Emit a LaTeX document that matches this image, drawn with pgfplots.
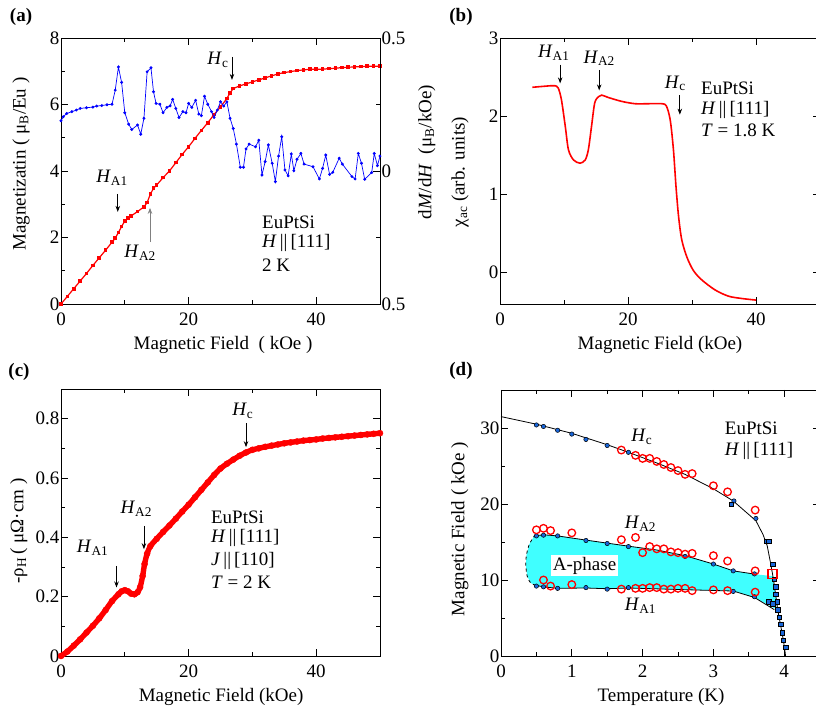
\documentclass[border=0pt]{standalone}
\usepackage{fontspec}
\setmainfont{Liberation Serif}
\usepackage{pgfplots}
\pgfplotsset{compat=1.18}
\usetikzlibrary{arrows.meta}

\definecolor{aphase}{rgb}{0.25,1,1}
\definecolor{ptblue}{rgb}{0.1,0.4,0.85}

\pgfplotsset{
  panel/.style={
    scale only axis,
    axis line style={line width=0.9pt},
    tick align=inside,
    every tick/.style={black, line width=0.8pt},
    major tick length=7pt,
    minor tick length=4pt,
    tick label style={font=\fontsize{19}{22}\selectfont},
    label style={font=\fontsize{19}{22}\selectfont},
    /pgf/number format/assume math mode=true,
    xticklabel style={yshift=-5pt},
    yticklabel style={inner sep=1.5pt},
    xlabel style={at={(axis description cs:0.5,-0.154)}, anchor=center},
    clip=false,
  },
}
\tikzset{
  ann/.style={font=\fontsize{19}{22}\selectfont, inner sep=0pt},
  arr/.style={-{Stealth[length=6pt,width=4.5pt]}, line width=0.8pt},
}

\begin{document}
\begin{tikzpicture}
\useasboundingbox (0pt,0pt) rectangle (816pt,709pt);

% ---------------- (a) magnetization + dM/dH
\begin{axis}[panel, at={(61pt,405pt)}, anchor=south west, width=319pt, height=266pt,
  xmin=0, xmax=50, ymin=0, ymax=8,
  xtick={0,20,40}, minor xtick={10,30},
  ytick={0,2,4,6,8}, minor ytick={1,3,5,7}, ytick pos=left,
  xlabel={Magnetic Field\ \ ( kOe )},
  xlabel style={at={(axis description cs:0.508,-0.154)}},
  ylabel={Magnetizatin ( μ\textsubscript{B}/Eu )},
  ylabel style={at={(axis description cs:-0.125,0.526)}, anchor=center}]
\addplot[red, line width=1.2pt, mark=square*, mark size=1.2pt] coordinates {
(0,0) (1,0.23) (2,0.46) (3,0.69) (4,0.92) (5,1.16) (6,1.39) (7,1.62) (8,1.86)
(8.5,1.98) (9,2.15) (9.5,2.33) (10,2.50) (10.5,2.58) (11,2.65) (12,2.78) (13,2.92)
(13.5,3.05) (14,3.30) (14.5,3.48) (15,3.58) (16,3.80) (17,4.00) (18,4.25) (19,4.50)
(20,4.73) (21,4.98) (22,5.22) (23,5.45) (24,5.70) (25,5.93) (26,6.18) (26.5,6.35)
(27,6.48) (28,6.56) (29,6.62) (30,6.68) (31,6.74) (32,6.80) (33,6.86) (34,6.92)
(35,6.96) (36,6.99) (37,7.02) (38,7.04) (39,7.06) (40,7.06) (41,7.06) (42,7.08)
(43,7.09) (44,7.11) (45,7.12) (46,7.13) (47,7.14) (48,7.15) (49,7.15) (50,7.15)
};
\node[ann] at (axis cs:24.6,7.34) {\textit{H}\textsubscript{c}};
\draw[arr] (axis cs:26.8,7.43) -- (axis cs:26.8,6.74);
\node[ann] at (axis cs:8.0,3.79) {\textit{H}\textsubscript{A1}};
\draw[arr] (axis cs:8.9,3.31) -- (axis cs:8.9,2.77);
\node[ann] at (axis cs:12.4,1.53) {\textit{H}\textsubscript{A2}};
\draw[arr, gray] (axis cs:13.95,1.86) -- (axis cs:13.95,2.89);
\node[ann, anchor=west] at (axis cs:31.5,2.47) {EuPtSi};
\node[ann, anchor=west] at (axis cs:31.5,1.83) {\textit{H}\,||\,[111]};
\node[ann, anchor=west] at (axis cs:31.5,1.17) {2 K};
\end{axis}

\begin{axis}[panel, at={(61pt,405pt)}, anchor=south west, width=319pt, height=266pt,
  xmin=0, xmax=50, ymin=-0.5, ymax=0.5,
  axis x line=none, axis y line*=right,
  ytick={-0.5,0,0.5}, yticklabels={0.5,0,0.5}, minor ytick={-0.25,0.25},
  ylabel={d\textit{M}/d\textit{H}\ \ (μ\textsubscript{B}/kOe)},
  ylabel style={at={(axis description cs:1.147,0.571)}, anchor=center}]
\addplot[blue, line width=0.7pt, mark=*, mark size=1.1pt] coordinates {
(0,0.189) (0.37,0.204) (0.9,0.216) (1.7,0.223) (2.4,0.229) (3.0,0.235) (4.0,0.238)
(5.0,0.240) (5.6,0.244) (6.4,0.246) (7.2,0.249) (8.0,0.251) (8.5,0.304) (9.0,0.391)
(9.5,0.333) (10.0,0.219) (10.6,0.176) (11.1,0.156) (12.0,0.173) (12.5,0.138)
(13.0,0.198) (13.5,0.373) (14.1,0.388) (14.5,0.298) (14.9,0.254) (15.5,0.251)
(16.0,0.219) (16.6,0.239) (17.1,0.245) (17.5,0.269) (18.0,0.235) (18.5,0.201)
(19.1,0.223) (19.6,0.219) (20.0,0.254) (20.5,0.239) (21.1,0.266) (21.6,0.214)
(22.0,0.208) (22.5,0.281) (23.0,0.251) (23.6,0.223) (24.0,0.201) (24.5,0.229)
(25.0,0.260) (25.5,0.244) (26.0,0.260) (26.5,0.198) (27.0,0.160) (27.5,0.101)
(28.1,0.014) (28.6,0.014) (29.0,0.083) (29.5,0.101) (30.5,0.091) (31.0,0.116)
(31.5,-0.015) (32.0,0.035) (32.5,0.098) (33.1,0.029) (33.6,-0.040) (34.1,0.056)
(34.6,0.129) (35.1,0.004) (35.6,-0.018) (36.1,0.064) (36.5,0.001) (37.0,0.044)
(37.6,0.066) (38.1,0.026) (39.5,0.016) (40.5,-0.030) (41.0,0.010) (41.5,0.060)
(42.1,-0.013) (42.6,-0.005) (43.6,0.048) (44.1,0.026) (45.6,-0.021) (46.1,-0.030)
(46.6,0.066) (47.1,0.029) (47.6,-0.031) (48.7,-0.006) (49.1,0.066) (49.6,0.020)
(50.0,0.056)
};
\end{axis}

% ---------------- (b) ac susceptibility
\begin{axis}[panel, at={(500pt,405pt)}, anchor=south west, width=320pt, height=266pt,
  xmin=0, xmax=50, ymin=-0.4, ymax=3,
  xtick={0,20,40}, minor xtick={10,30,50},
  ytick={0,1,2,3},
  xlabel={Magnetic Field (kOe)},
  ylabel={χ\textsubscript{ac} (arb. units)},
  ylabel style={at={(axis description cs:-0.125,0.496)}, anchor=center}]
\addplot[red, line width=1.6pt, smooth] coordinates {
(5.05,2.37) (6.5,2.38) (8.0,2.39) (8.6,2.39) (9.1,2.36) (9.6,2.21) (10.2,1.87)
(10.7,1.57) (11.5,1.44) (12.5,1.40) (13.3,1.44) (13.8,1.57) (14.3,1.87) (14.8,2.17)
(15.4,2.25) (15.9,2.27) (16.9,2.24) (19.0,2.19) (21.1,2.16) (23.2,2.16) (25.3,2.16)
(26.0,2.13) (26.6,1.95) (27.1,1.57) (27.5,1.10) (27.9,0.72) (28.4,0.42) (29.2,0.20)
(30.2,0.03) (31.5,-0.09) (33.6,-0.22) (35.7,-0.30) (37.8,-0.33) (40.0,-0.35)
};
\node[ann] at (axis cs:8.4,2.81) {\textit{H}\textsubscript{A1}};
\draw[arr] (axis cs:9.4,2.66) -- (axis cs:9.4,2.42);
\node[ann] at (axis cs:15.5,2.74) {\textit{H}\textsubscript{A2}};
\draw[arr] (axis cs:15.5,2.59) -- (axis cs:15.5,2.33);
\node[ann] at (axis cs:27.4,2.42) {\textit{H}\textsubscript{c}};
\draw[arr] (axis cs:28.1,2.27) -- (axis cs:28.1,2.02);
\node[ann, anchor=west] at (axis cs:31.4,2.36) {EuPtSi};
\node[ann, anchor=west] at (axis cs:31.4,2.08) {\textit{H}\,||\,[111]};
\node[ann, anchor=west] at (axis cs:31.4,1.82) {\textit{T} = 1.8 K};
\end{axis}

% ---------------- (c) Hall resistivity
\begin{axis}[panel, at={(61pt,53pt)}, anchor=south west, width=319pt, height=267pt,
  xmin=0, xmax=50, ymin=0, ymax=0.9,
  xtick={0,20,40}, minor xtick={10,30},
  ytick={0,0.2,0.4,0.6,0.8}, minor ytick={0.1,0.3,0.5,0.7},
  xlabel={Magnetic Field (kOe)},
  xlabel style={at={(axis description cs:0.502,-0.154)}},
  ylabel={-ρ\textsubscript{H}\,( μΩ·cm )},
  ylabel style={at={(axis description cs:-0.132,0.468)}, anchor=center}]
\addplot[red, line width=5.4pt, line join=round, smooth, mark=*, mark size=3.1pt,
  mark options={line width=0.3pt}] coordinates {
(0,0) (1,0.015) (2,0.035) (3,0.056) (4,0.079) (5,0.102) (6,0.127) (7,0.155)
(8,0.185) (9,0.208) (9.5,0.218) (10,0.222) (10.5,0.218) (11,0.210) (11.5,0.208)
(12,0.215) (12.4,0.232) (12.8,0.27) (13.1,0.31) (13.5,0.345) (14,0.37) (15,0.395)
(16,0.418) (17,0.44) (18,0.463) (19,0.487) (20,0.51) (21,0.535) (22,0.56)
(23,0.585) (24,0.61) (25,0.632) (26,0.648) (27,0.662) (28,0.675) (29,0.686)
(30,0.695) (31,0.700) (32,0.705) (33,0.709) (34,0.713) (35,0.717) (36,0.720)
(37,0.723) (38,0.726) (39,0.728) (40,0.730) (41,0.733) (42,0.735) (43,0.737)
(44,0.739) (45,0.741) (46,0.743) (47,0.745) (48,0.747) (49,0.749) (50,0.751)
};
\node[ann] at (axis cs:28.5,0.826) {\textit{H}\textsubscript{c}};
\draw[arr] (axis cs:29.0,0.785) -- (axis cs:29.0,0.704);
\node[ann] at (axis cs:11.8,0.496) {\textit{H}\textsubscript{A2}};
\draw[arr] (axis cs:13.0,0.439) -- (axis cs:13.0,0.36);
\node[ann] at (axis cs:4.96,0.364) {\textit{H}\textsubscript{A1}};
\draw[arr] (axis cs:8.7,0.304) -- (axis cs:8.7,0.231);
\node[ann, anchor=west] at (axis cs:23.5,0.468) {EuPtSi};
\node[ann, anchor=west] at (axis cs:23.5,0.397) {\textit{H}\,||\,[111]};
\node[ann, anchor=west] at (axis cs:23.5,0.321) {\textit{J}\,||\,[110]};
\node[ann, anchor=west] at (axis cs:23.5,0.250) {\textit{T} = 2 K};
\end{axis}

% ---------------- (d) phase diagram
\begin{axis}[panel, at={(501pt,53pt)}, anchor=south west, width=318.6pt, height=266pt,
  xmin=0, xmax=4.5, ymin=0, ymax=35,
  xtick={0,1,2,3,4}, minor xtick={0.5,1.5,2.5,3.5,4.5},
  ytick={0,10,20,30}, minor ytick={5,15,25,35},
  xlabel={Temperature (K)},
  xlabel style={at={(axis description cs:0.502,-0.154)}},
  ylabel={Magnetic Field ( kOe )},
  ylabel style={at={(axis description cs:-0.129,0.477)}, anchor=center}]
% A-phase region
\addplot[fill=aphase, draw=none] coordinates {
(0.47,15.8) (0.6,15.95) (0.8,15.8) (1.2,15.25) (1.5,14.85) (1.8,14.45) (2.2,13.95)
(2.6,13.2) (3.0,12.1) (3.28,11.2) (3.6,10.75) (3.84,10.5) (3.86,9.0) (3.88,8.0)
(3.9,7.0) (3.88,6.2) (3.84,6.4) (3.58,7.7) (3.28,8.55) (2.5,8.75) (1.8,8.95)
(1.5,8.85) (1.2,8.95) (0.8,8.9) (0.6,9.1) (0.49,9.3) (0.42,9.6) (0.37,10.5)
(0.35,12.0) (0.36,13.3) (0.40,14.7) (0.47,15.8)
};
% boundaries
\addplot[black, line width=0.8pt] coordinates {
(0,31.5) (0.5,30.5) (1.0,29.3) (1.5,27.8) (1.8,26.8) (2.2,25.4) (2.6,23.9)
(3.0,22.0) (3.28,20.4) (3.6,17.8) (3.7,16.0) (3.76,14.5) (3.81,12.1) (3.85,10.0)
(3.88,8.0) (3.91,6.0) (3.95,4.0) (3.99,2.0) (4.02,0)
};
\addplot[black, line width=0.8pt] coordinates {
(0.47,15.8) (0.6,15.95) (0.8,15.8) (1.2,15.25) (1.5,14.85) (1.8,14.45) (2.2,13.95)
(2.6,13.2) (3.0,12.1) (3.28,11.2) (3.6,10.75)
};
\addplot[black, line width=0.8pt] coordinates {
(0.49,9.3) (0.6,9.1) (0.8,8.9) (1.2,8.95) (1.5,8.85) (1.8,8.95) (2.5,8.75)
(3.28,8.55) (3.58,7.7) (3.86,6.1)
};
\addplot[black, line width=0.8pt, dashed, smooth] coordinates {
(0.49,9.3) (0.42,9.6) (0.37,10.5) (0.35,12.0) (0.36,13.3) (0.40,14.7) (0.47,15.8)
};
% blue data: temperature sweeps (circles) and field sweeps (squares)
\addplot[only marks, mark=*, mark size=2.2pt, mark options={fill=ptblue, draw=black, line width=0.5pt}] coordinates {
(0.5,30.4) (0.6,30.2) (0.8,29.7) (1.0,29.2) (1.2,28.5) (1.5,27.7) (1.8,26.8)
(3.29,20.4) (3.6,18.1)
(0.5,15.8) (0.6,15.9) (0.8,15.8) (1.2,15.2) (1.5,14.8) (1.8,14.4) (2.6,13.1)
(3.0,12.1) (3.28,11.2) (3.58,10.8)
(0.5,9.2) (0.6,9.1) (0.8,8.9) (1.2,9.0) (1.5,8.8) (1.8,9.0) (3.28,8.5) (3.58,7.8)
};
\addplot[only marks, mark=square*, mark size=2.2pt, mark options={fill=ptblue, draw=black, line width=0.5pt}] coordinates {
(3.25,20.0) (3.75,15.1) (3.78,15.1) (3.84,12.1) (3.86,10.1) (3.88,9.1) (3.88,8.1)
(3.90,7.15) (3.78,7.15) (3.84,6.9) (3.91,6.06) (3.93,5.1) (3.95,4.2) (3.97,3.07)
(3.99,2.1) (4.02,1.15)
};
% red open circles
\addplot[only marks, mark=o, mark size=3.8pt, red, line width=1.3pt] coordinates {
(1.7,27.1) (1.9,26.4) (2.0,26.0) (2.1,26.0) (2.2,25.6) (2.3,25.2) (2.4,24.8)
(2.5,24.4) (2.6,23.9) (2.7,24.0) (3.0,22.4) (3.2,21.6) (3.59,19.2)
(0.5,16.6) (0.6,16.8) (0.7,16.5) (1.0,16.2) (1.7,15.3) (1.9,15.6) (2.0,13.6)
(2.1,14.4) (2.2,14.1) (2.3,14.1) (2.4,13.7) (2.5,13.6) (2.6,13.4) (2.7,13.5)
(3.0,13.2) (3.2,12.5) (3.59,11.2)
(0.6,10.0) (0.7,9.2) (1.0,9.4) (1.7,8.8) (1.9,8.9) (2.0,8.9) (2.1,9.0) (2.2,9.0)
(2.3,8.8) (2.4,8.8) (2.5,8.9) (2.6,8.9) (2.7,8.6) (3.0,8.7) (3.2,8.6) (3.59,8.4)
};
\addplot[only marks, mark=square, mark size=4.5pt, red, line width=1.8pt] coordinates {
(3.83,10.8)
};
\node[ann, fill=white, inner sep=2pt] at (axis cs:1.18,11.86) {A-phase};
\node[ann] at (axis cs:1.99,28.85) {\textit{H}\textsubscript{c}};
\node[ann] at (axis cs:1.97,17.35) {\textit{H}\textsubscript{A2}};
\node[ann] at (axis cs:1.97,6.59) {\textit{H}\textsubscript{A1}};
\node[ann, anchor=west] at (axis cs:3.16,30.0) {EuPtSi};
\node[ann, anchor=west] at (axis cs:3.16,27.0) {\textit{H}\,||\,[111]};
\end{axis}

% panel letters
\node[font=\bfseries\fontsize{19}{22}\selectfont] at (21pt,692pt) {(a)};
\node[font=\bfseries\fontsize{19}{22}\selectfont] at (461pt,692pt) {(b)};
\node[font=\bfseries\fontsize{19}{22}\selectfont] at (19pt,337pt) {(c)};
\node[font=\bfseries\fontsize{19}{22}\selectfont] at (461pt,338pt) {(d)};
\end{tikzpicture}
\end{document}
